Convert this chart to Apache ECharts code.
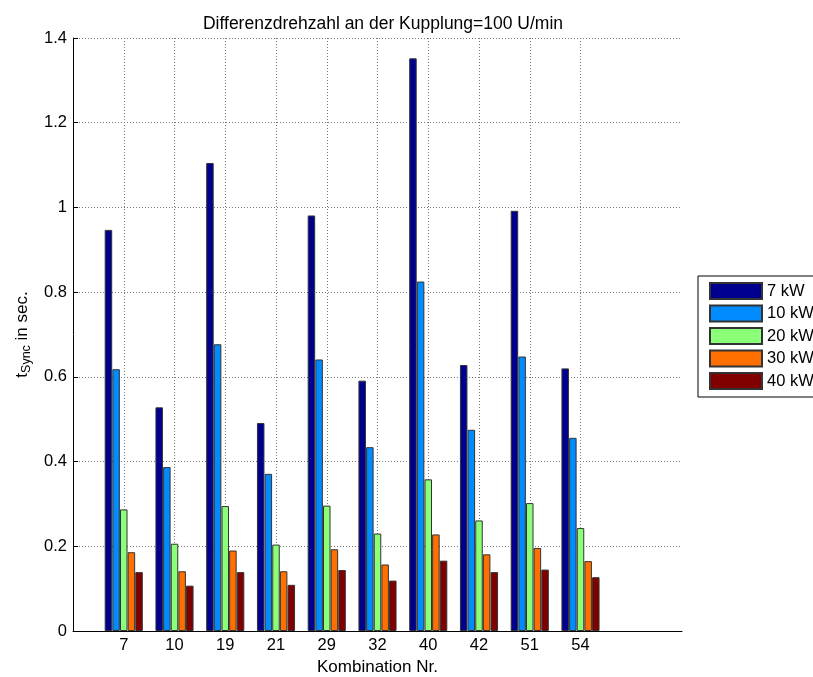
<!DOCTYPE html>
<html>
<head>
<meta charset="utf-8">
<script src="https://cdn.jsdelivr.net/npm/echarts@6/dist/echarts.min.js"></script>
<style>html,body{margin:0;padding:0;background:#fff;}#chart{width:813px;height:677px;}</style>
</head>
<body>
<div id="chart"></div>
<script>
// Data
const categories = ['7', '10', '19', '21', '29', '32', '40', '42', '51', '54'];
const seriesNames = ['7 kW', '10 kW', '20 kW', '30 kW', '40 kW'];
const kw7  = [0.947, 0.528, 1.105, 0.491, 0.981, 0.591, 1.352, 0.628, 0.992, 0.620];
const kw10 = [0.618, 0.387, 0.677, 0.371, 0.641, 0.434, 0.825, 0.475, 0.648, 0.456];
const kw20 = [0.287, 0.206, 0.295, 0.204, 0.296, 0.230, 0.358, 0.261, 0.302, 0.243];
const kw30 = [0.186, 0.141, 0.190, 0.141, 0.193, 0.157, 0.228, 0.181, 0.196, 0.165];
const kw40 = [0.139, 0.107, 0.139, 0.109, 0.144, 0.119, 0.166, 0.139, 0.145, 0.127];
const yTicks = [0, 0.2, 0.4, 0.6, 0.8, 1, 1.2, 1.4];

const colors = ['#00008F', '#008CFF', '#8CFF78', '#FF7000', '#800000'];
const allValues = [kw7, kw10, kw20, kw30, kw40];

// x axis spans positions 0..12 (MATLAB-like limits); categories sit at 1..10
const axisData = [''].concat(categories, ['', '']);
const pad = arr => [null].concat(arr, [null, null]);
const showCat = (index, value) => value !== '';

const font = 'Liberation Sans, Arial, Helvetica, sans-serif';
const fs = 16.5;

const chart = echarts.init(document.getElementById('chart'));
chart.setOption({
  animation: false,
  backgroundColor: '#fff',
  textStyle: { fontFamily: font },
  title: {
    text: 'Differenzdrehzahl an der Kupplung=100 U/min',
    left: 378, top: 10, textAlign: 'center',
    textStyle: { fontFamily: font, fontSize: 17.5, fontWeight: 'normal', color: '#000' }
  },
  legend: {
    orient: 'vertical',
    left: 698, top: 276,
    itemWidth: 52, itemHeight: 16, itemGap: 4.5,
    padding: [6, 20, 7, 11],
    borderColor: '#000', borderWidth: 1, backgroundColor: '#fff',
    icon: 'rect',
    textStyle: { fontFamily: font, fontSize: fs, lineHeight: 16, color: '#000' },
    data: seriesNames
  },
  grid: { left: 73, right: 131, top: 38, bottom: 46, containLabel: false, outerBoundsMode: 'none' },
  xAxis: {
    type: 'category',
    data: axisData,
    boundaryGap: false,
    name: 'Kombination Nr.',
    nameLocation: 'middle',
    nameGap: 25,
    nameTextStyle: { fontFamily: font, fontSize: 17, color: '#000' },
    axisLine: { show: true, lineStyle: { color: '#000', width: 1 } },
    axisTick: { show: true, inside: true, length: 5, interval: showCat, lineStyle: { color: '#000' } },
    axisLabel: { interval: showCat, margin: 6, fontFamily: font, fontSize: fs, color: '#000' },
    splitLine: { show: true, interval: showCat, lineStyle: { color: '#777', type: [1, 2], width: 1 } }
  },
  yAxis: {
    type: 'value',
    min: 0, max: 1.4, interval: 0.2,
    name: '{t|t}{s|Sync}{t| in sec.}',
    nameLocation: 'middle',
    nameGap: 32,
    nameRotate: 90,
    nameTextStyle: {
      color: '#000',
      rich: {
        t: { fontFamily: font, fontSize: 17, color: '#000', lineHeight: 22, verticalAlign: 'middle' },
        s: { fontFamily: font, fontSize: 12.5, color: '#000', lineHeight: 22, verticalAlign: 'bottom', padding: [10, 0, 0, 0] }
      }
    },
    axisLine: { show: true, lineStyle: { color: '#000', width: 1 } },
    axisTick: { show: true, inside: true, length: 5, lineStyle: { color: '#000' } },
    axisLabel: {
      margin: 6, fontFamily: font, fontSize: fs, color: '#000',
      formatter: v => {
        const t = yTicks.find(x => Math.abs(x - v) < 1e-9);
        return t === undefined ? '' : String(t);
      }
    },
    splitLine: { show: true, lineStyle: { color: '#777', type: [1, 2], width: 1 } }
  },
  series: seriesNames.map((name, i) => ({
    name: name,
    type: 'bar',
    data: pad(allValues[i]),
    barWidth: 7.5,
    barGap: '2%',
    itemStyle: { color: colors[i], borderColor: '#333', borderWidth: 1 }
  }))
});
</script>
</body>
</html>
